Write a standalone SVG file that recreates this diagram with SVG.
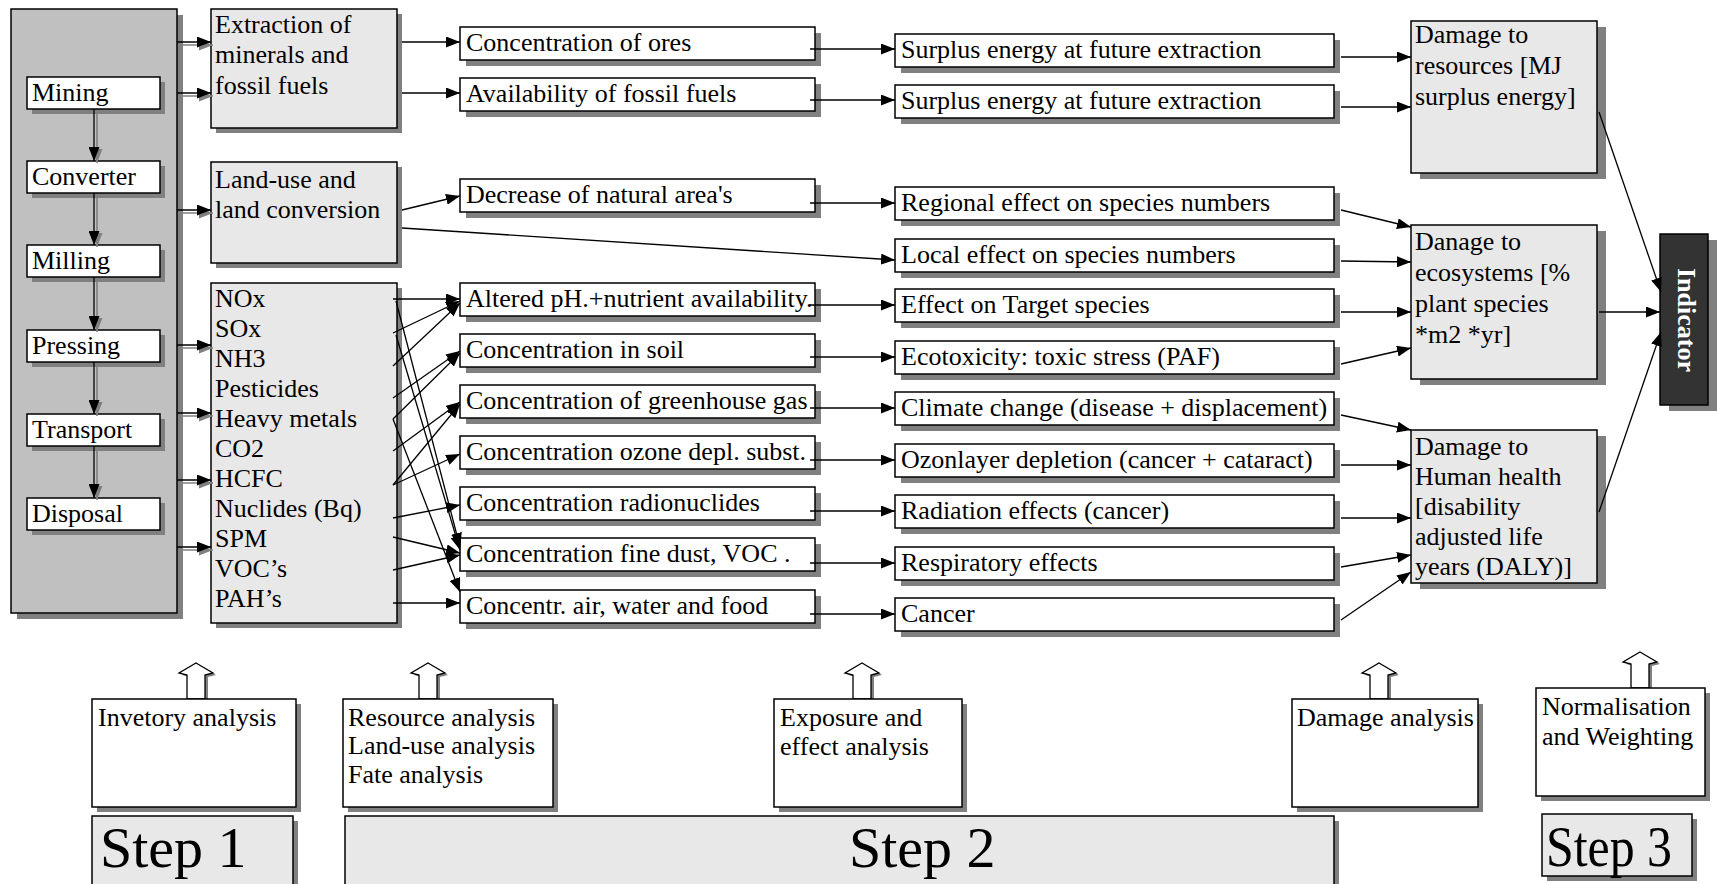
<svg xmlns="http://www.w3.org/2000/svg" width="1717" height="884" viewBox="0 0 1717 884">
<defs>
<style>
.t{font-family:"Liberation Serif","Times New Roman",serif;font-size:26px;fill:#000}
.st{font-family:"Liberation Serif","Times New Roman",serif;font-size:58px;fill:#000}
.ind{font-family:"Liberation Serif","Times New Roman",serif;font-size:26px;font-weight:bold;fill:#fff}
.w{fill:#fff;stroke:#000;stroke-width:1.5}
.l{fill:#e8e8e8;stroke:#000;stroke-width:1.5}
.g{fill:#c0c0c0;stroke:#000;stroke-width:1.5}
.k{fill:#333;stroke:#000;stroke-width:1.5}
.sh{fill:#808080}
.ln{stroke:#000;stroke-width:1.3;fill:none;marker-end:url(#ah)}
.lns{stroke:#808080;stroke-width:1.6;fill:none;marker-end:url(#ahg)}
.ba{fill:#fff;stroke:#000;stroke-width:1.3}
</style>
<marker id="ah" markerUnits="userSpaceOnUse" markerWidth="15" markerHeight="11" refX="14" refY="5.5" orient="auto"><path d="M0,0 L14,5.5 L0,11 z" fill="#000"/></marker>
<marker id="ahg" markerUnits="userSpaceOnUse" markerWidth="15" markerHeight="11" refX="14" refY="5.5" orient="auto"><path d="M0,0 L14,5.5 L0,11 z" fill="#808080"/></marker>
</defs>
<rect width="1717" height="884" fill="#fff"/>

<g id="process">
<rect class="sh" x="17" y="15" width="166" height="604"/>
<rect class="g" x="11" y="9" width="166" height="604"/>
</g>
<g id="mining"><rect class="sh" x="32" y="82" width="133" height="32"/><rect class="w" x="27" y="77" width="133" height="32"/><text class="t" x="32" y="101">Mining</text></g>
<g id="converter"><rect class="sh" x="32" y="166" width="133" height="32"/><rect class="w" x="27" y="161" width="133" height="32"/><text class="t" x="32" y="185">Converter</text></g>
<g id="milling"><rect class="sh" x="32" y="250" width="133" height="32"/><rect class="w" x="27" y="245" width="133" height="32"/><text class="t" x="32" y="269">Milling</text></g>
<g id="pressing"><rect class="sh" x="32" y="335" width="133" height="32"/><rect class="w" x="27" y="330" width="133" height="32"/><text class="t" x="32" y="354">Pressing</text></g>
<g id="transport"><rect class="sh" x="32" y="419" width="133" height="32"/><rect class="w" x="27" y="414" width="133" height="32"/><text class="t" x="32" y="438">Transport</text></g>
<g id="disposal"><rect class="sh" x="32" y="503" width="133" height="32"/><rect class="w" x="27" y="498" width="133" height="32"/><text class="t" x="32" y="522">Disposal</text></g>

<g id="extraction"><rect class="sh" x="216" y="14" width="186" height="119"/><rect class="l" x="211" y="9" width="186" height="119"/>
<text class="t" x="215" y="33">Extraction of</text><text class="t" x="215" y="63">minerals and</text><text class="t" x="215" y="94">fossil fuels</text></g>
<g id="landuse"><rect class="sh" x="216" y="167" width="186" height="101"/><rect class="l" x="211" y="162" width="186" height="101"/>
<text class="t" x="215" y="188">Land-use and</text><text class="t" x="215" y="218">land conversion</text></g>
<g id="emissions"><rect class="sh" x="216" y="288" width="186" height="340"/><rect class="l" x="211" y="283" width="186" height="340"/>
<text class="t" x="215" y="307">NOx</text><text class="t" x="215" y="337">SOx</text><text class="t" x="215" y="367">NH3</text><text class="t" x="215" y="397">Pesticides</text><text class="t" x="215" y="427">Heavy metals</text><text class="t" x="215" y="457">CO2</text><text class="t" x="215" y="487">HCFC</text><text class="t" x="215" y="517">Nuclides (Bq)</text><text class="t" x="215" y="547">SPM</text><text class="t" x="215" y="577">VOC’s</text><text class="t" x="215" y="607">PAH’s</text></g>

<g id="c2-ores"><rect class="sh" x="466" y="33" width="355" height="33"/><rect class="w" x="460" y="27" width="355" height="33"/><text class="t" x="466" y="51">Concentration of ores</text></g>
<g id="c2-fossil"><rect class="sh" x="466" y="84" width="355" height="33"/><rect class="w" x="460" y="78" width="355" height="33"/><text class="t" x="466" y="102">Availability of fossil fuels</text></g>
<g id="c2-natural"><rect class="sh" x="466" y="185" width="355" height="33"/><rect class="w" x="460" y="179" width="355" height="33"/><text class="t" x="466" y="203">Decrease of natural area's</text></g>
<g id="c2-ph"><rect class="sh" x="466" y="289" width="355" height="33"/><rect class="w" x="460" y="283" width="355" height="33"/><text class="t" x="466" y="307">Altered pH.+nutrient availability.</text></g>
<g id="c2-soil"><rect class="sh" x="466" y="340" width="355" height="33"/><rect class="w" x="460" y="334" width="355" height="33"/><text class="t" x="466" y="358">Concentration in soil</text></g>
<g id="c2-ghg"><rect class="sh" x="466" y="391" width="355" height="33"/><rect class="w" x="460" y="385" width="355" height="33"/><text class="t" x="466" y="409">Concentration of greenhouse gas</text></g>
<g id="c2-ozone"><rect class="sh" x="466" y="442" width="355" height="33"/><rect class="w" x="460" y="436" width="355" height="33"/><text class="t" x="466" y="460">Concentration ozone depl. subst.</text></g>
<g id="c2-radio"><rect class="sh" x="466" y="493" width="355" height="33"/><rect class="w" x="460" y="487" width="355" height="33"/><text class="t" x="466" y="511">Concentration radionuclides</text></g>
<g id="c2-dust"><rect class="sh" x="466" y="544" width="355" height="33"/><rect class="w" x="460" y="538" width="355" height="33"/><text class="t" x="466" y="562">Concentration fine dust, VOC .</text></g>
<g id="c2-air"><rect class="sh" x="466" y="596" width="355" height="33"/><rect class="w" x="460" y="590" width="355" height="33"/><text class="t" x="466" y="614">Concentr. air, water and food</text></g>

<g id="c3-surplus1"><rect class="sh" x="901" y="40" width="439" height="33"/><rect class="w" x="895" y="34" width="439" height="33"/><text class="t" x="901" y="58">Surplus energy at future extraction</text></g>
<g id="c3-surplus2"><rect class="sh" x="901" y="91" width="439" height="33"/><rect class="w" x="895" y="85" width="439" height="33"/><text class="t" x="901" y="109">Surplus energy at future extraction</text></g>
<g id="c3-regional"><rect class="sh" x="901" y="193" width="439" height="33"/><rect class="w" x="895" y="187" width="439" height="33"/><text class="t" x="901" y="211">Regional effect on species numbers</text></g>
<g id="c3-local"><rect class="sh" x="901" y="245" width="439" height="33"/><rect class="w" x="895" y="239" width="439" height="33"/><text class="t" x="901" y="263">Local effect on species numbers</text></g>
<g id="c3-target"><rect class="sh" x="901" y="295" width="439" height="33"/><rect class="w" x="895" y="289" width="439" height="33"/><text class="t" x="901" y="313">Effect on Target species</text></g>
<g id="c3-ecotox"><rect class="sh" x="901" y="347" width="439" height="33"/><rect class="w" x="895" y="341" width="439" height="33"/><text class="t" x="901" y="365">Ecotoxicity: toxic stress (PAF)</text></g>
<g id="c3-climate"><rect class="sh" x="901" y="398" width="439" height="33"/><rect class="w" x="895" y="392" width="439" height="33"/><text class="t" x="901" y="416">Climate change (disease + displacement)</text></g>
<g id="c3-ozon"><rect class="sh" x="901" y="450" width="439" height="33"/><rect class="w" x="895" y="444" width="439" height="33"/><text class="t" x="901" y="468">Ozonlayer depletion (cancer + cataract)</text></g>
<g id="c3-radiation"><rect class="sh" x="901" y="501" width="439" height="33"/><rect class="w" x="895" y="495" width="439" height="33"/><text class="t" x="901" y="519">Radiation effects (cancer)</text></g>
<g id="c3-resp"><rect class="sh" x="901" y="553" width="439" height="33"/><rect class="w" x="895" y="547" width="439" height="33"/><text class="t" x="901" y="571">Respiratory effects</text></g>
<g id="c3-cancer"><rect class="sh" x="901" y="604" width="439" height="33"/><rect class="w" x="895" y="598" width="439" height="33"/><text class="t" x="901" y="622">Cancer</text></g>

<g id="d-resources"><rect class="sh" x="1420" y="27" width="186" height="152"/><rect class="l" x="1411" y="21" width="186" height="152"/>
<text class="t" x="1415" y="43">Damage to</text><text class="t" x="1415" y="74">resources [MJ</text><text class="t" x="1415" y="105">surplus energy]</text></g>
<g id="d-ecosystems"><rect class="sh" x="1420" y="231" width="186" height="154"/><rect class="l" x="1411" y="225" width="186" height="154"/>
<text class="t" x="1415" y="250">Danage to</text><text class="t" x="1415" y="281">ecosystems [%</text><text class="t" x="1415" y="312">plant species</text><text class="t" x="1415" y="343">*m2 *yr]</text></g>
<g id="d-health"><rect class="sh" x="1420" y="436" width="186" height="153"/><rect class="l" x="1411" y="430" width="186" height="153"/>
<text class="t" x="1415" y="455">Damage to</text><text class="t" x="1415" y="485">Human health</text><text class="t" x="1415" y="515">[disability</text><text class="t" x="1415" y="545">adjusted life</text><text class="t" x="1415" y="575">years (DALY)]</text></g>
<g id="indicator"><rect class="sh" x="1669" y="240" width="48" height="171"/><rect class="k" x="1660" y="234" width="48" height="171"/>
<text class="ind" transform="translate(1678,268) rotate(90)">Indicator</text></g>

<g id="connectors">
<g>
<line class="lns" x1="97" y1="111" x2="97" y2="163"/><line class="ln" x1="94" y1="109" x2="94" y2="161"/>
<line class="lns" x1="97" y1="195" x2="97" y2="247"/><line class="ln" x1="94" y1="193" x2="94" y2="245"/>
<line class="lns" x1="97" y1="279" x2="97" y2="332"/><line class="ln" x1="94" y1="277" x2="94" y2="330"/>
<line class="lns" x1="97" y1="364" x2="97" y2="416"/><line class="ln" x1="94" y1="362" x2="94" y2="414"/>
<line class="lns" x1="97" y1="448" x2="97" y2="500"/><line class="ln" x1="94" y1="446" x2="94" y2="498"/>
</g>
<g>
<line class="lns" x1="178" y1="45" x2="213" y2="45"/><line class="ln" x1="177" y1="42" x2="211" y2="42"/>
<line class="lns" x1="178" y1="96" x2="213" y2="96"/><line class="ln" x1="177" y1="93" x2="211" y2="93"/>
<line class="lns" x1="178" y1="213" x2="213" y2="213"/><line class="ln" x1="177" y1="210" x2="211" y2="210"/>
<line class="lns" x1="178" y1="348" x2="213" y2="348"/><line class="ln" x1="177" y1="345" x2="211" y2="345"/>
<line class="lns" x1="178" y1="416" x2="213" y2="416"/><line class="ln" x1="177" y1="413" x2="211" y2="413"/>
<line class="lns" x1="178" y1="483" x2="213" y2="483"/><line class="ln" x1="177" y1="480" x2="211" y2="480"/>
<line class="lns" x1="178" y1="550" x2="213" y2="550"/><line class="ln" x1="177" y1="547" x2="211" y2="547"/>
</g>
<line class="ln" x1="402" y1="42" x2="460" y2="42"/>
<line class="ln" x1="402" y1="93" x2="460" y2="93"/>
<line class="ln" x1="402" y1="210" x2="460" y2="196"/>
<line class="ln" x1="402" y1="228" x2="895" y2="260"/>
<line class="ln" x1="393" y1="299" x2="460" y2="299"/>
<line class="ln" x1="393" y1="333" x2="460" y2="301"/>
<line class="ln" x1="393" y1="366" x2="460" y2="303"/>
<line class="ln" x1="393" y1="398" x2="460" y2="351"/>
<line class="ln" x1="393" y1="419" x2="460" y2="353"/>
<line class="ln" x1="393" y1="451" x2="460" y2="402"/>
<line class="ln" x1="393" y1="485" x2="460" y2="404"/>
<line class="ln" x1="393" y1="485" x2="460" y2="454"/>
<line class="ln" x1="393" y1="518" x2="460" y2="505"/>
<line class="ln" x1="393" y1="537" x2="460" y2="553"/>
<line class="ln" x1="393" y1="570" x2="460" y2="555"/>
<line class="ln" x1="396" y1="301" x2="460" y2="547"/>
<line class="ln" x1="396" y1="335" x2="460" y2="550"/>
<line class="ln" x1="393" y1="419" x2="460" y2="592"/>
<line class="ln" x1="393" y1="603" x2="460" y2="603"/>
<line class="ln" x1="810" y1="49" x2="895" y2="49"/>
<line class="ln" x1="810" y1="100" x2="895" y2="100"/>
<line class="ln" x1="810" y1="203" x2="895" y2="203"/>
<line class="ln" x1="810" y1="305" x2="895" y2="305"/>
<line class="ln" x1="810" y1="357" x2="895" y2="357"/>
<line class="ln" x1="810" y1="408" x2="895" y2="408"/>
<line class="ln" x1="810" y1="460" x2="895" y2="460"/>
<line class="ln" x1="810" y1="511" x2="895" y2="511"/>
<line class="ln" x1="810" y1="563" x2="895" y2="563"/>
<line class="ln" x1="810" y1="614" x2="895" y2="614"/>
<line class="ln" x1="1341" y1="57" x2="1411" y2="57"/>
<line class="ln" x1="1341" y1="107" x2="1411" y2="107"/>
<line class="ln" x1="1341" y1="210" x2="1411" y2="227"/>
<line class="ln" x1="1341" y1="261" x2="1411" y2="262"/>
<line class="ln" x1="1341" y1="312" x2="1411" y2="312"/>
<line class="ln" x1="1341" y1="364" x2="1411" y2="348"/>
<line class="ln" x1="1341" y1="415" x2="1411" y2="430"/>
<line class="ln" x1="1341" y1="465" x2="1411" y2="465"/>
<line class="ln" x1="1341" y1="518" x2="1411" y2="518"/>
<line class="ln" x1="1341" y1="567" x2="1411" y2="555"/>
<line class="ln" x1="1341" y1="620" x2="1411" y2="572"/>
<line class="ln" x1="1599" y1="112" x2="1661" y2="292"/>
<line class="ln" x1="1599" y1="312" x2="1660" y2="312"/>
<line class="ln" x1="1599" y1="512" x2="1661" y2="332"/>
</g>

<g id="arrows-up">
<polygon class="sh" points="199,665 216,675 208,677 208,701 190,701 190,677 182,675"/>
<polygon class="ba" points="196,663 213,673 205,675 205,699 187,699 187,675 179,673"/>
<polygon class="sh" points="431,665 448,675 440,677 440,701 422,701 422,677 414,675"/>
<polygon class="ba" points="428,663 445,673 437,675 437,699 419,699 419,675 411,673"/>
<polygon class="sh" points="865,665 882,675 874,677 874,701 856,701 856,677 848,675"/>
<polygon class="ba" points="862,663 879,673 871,675 871,699 853,699 853,675 845,673"/>
<polygon class="sh" points="1382,665 1399,675 1391,677 1391,701 1373,701 1373,677 1365,675"/>
<polygon class="ba" points="1379,663 1396,673 1388,675 1388,699 1370,699 1370,675 1362,673"/>
<polygon class="sh" points="1643,654 1660,664 1652,666 1652,690 1634,690 1634,666 1626,664"/>
<polygon class="ba" points="1640,652 1657,662 1649,664 1649,688 1631,688 1631,664 1623,662"/>
</g>

<g id="inventory-analysis"><rect class="sh" x="97" y="704" width="204" height="108"/><rect class="w" x="92" y="699" width="204" height="108"/><text class="t" x="98" y="726">Invetory analysis</text></g>
<g id="resource-analysis"><rect class="sh" x="348" y="704" width="210" height="108"/><rect class="w" x="343" y="699" width="210" height="108"/>
<text class="t" x="348" y="726">Resource analysis</text><text class="t" x="348" y="754">Land-use analysis</text><text class="t" x="348" y="783">Fate analysis</text></g>
<g id="exposure-analysis"><rect class="sh" x="779" y="704" width="188" height="108"/><rect class="w" x="774" y="699" width="188" height="108"/>
<text class="t" x="780" y="726">Exposure and</text><text class="t" x="780" y="755">effect analysis</text></g>
<g id="damage-analysis"><rect class="sh" x="1297" y="704" width="186" height="108"/><rect class="w" x="1292" y="699" width="186" height="108"/><text class="t" x="1297" y="726">Damage analysis</text></g>
<g id="normalisation"><rect class="sh" x="1541" y="693" width="169" height="108"/><rect class="w" x="1536" y="688" width="169" height="108"/>
<text class="t" x="1542" y="715">Normalisation</text><text class="t" x="1542" y="745">and Weighting</text></g>

<g id="step1"><rect class="sh" x="97" y="821" width="201" height="80"/><rect class="l" x="92" y="816" width="201" height="80"/><text class="st" x="100" y="867">Step 1</text></g>
<g id="step2"><rect class="sh" x="350" y="821" width="989" height="80"/><rect class="l" x="345" y="816" width="989" height="80"/><text class="st" x="849" y="867">Step 2</text></g>
<g id="step3"><rect class="sh" x="1547" y="819" width="150" height="62"/><rect class="l" x="1542" y="814" width="150" height="62"/><text class="st" transform="translate(1546,866) scale(0.86,1)">Step 3</text></g>
</svg>
